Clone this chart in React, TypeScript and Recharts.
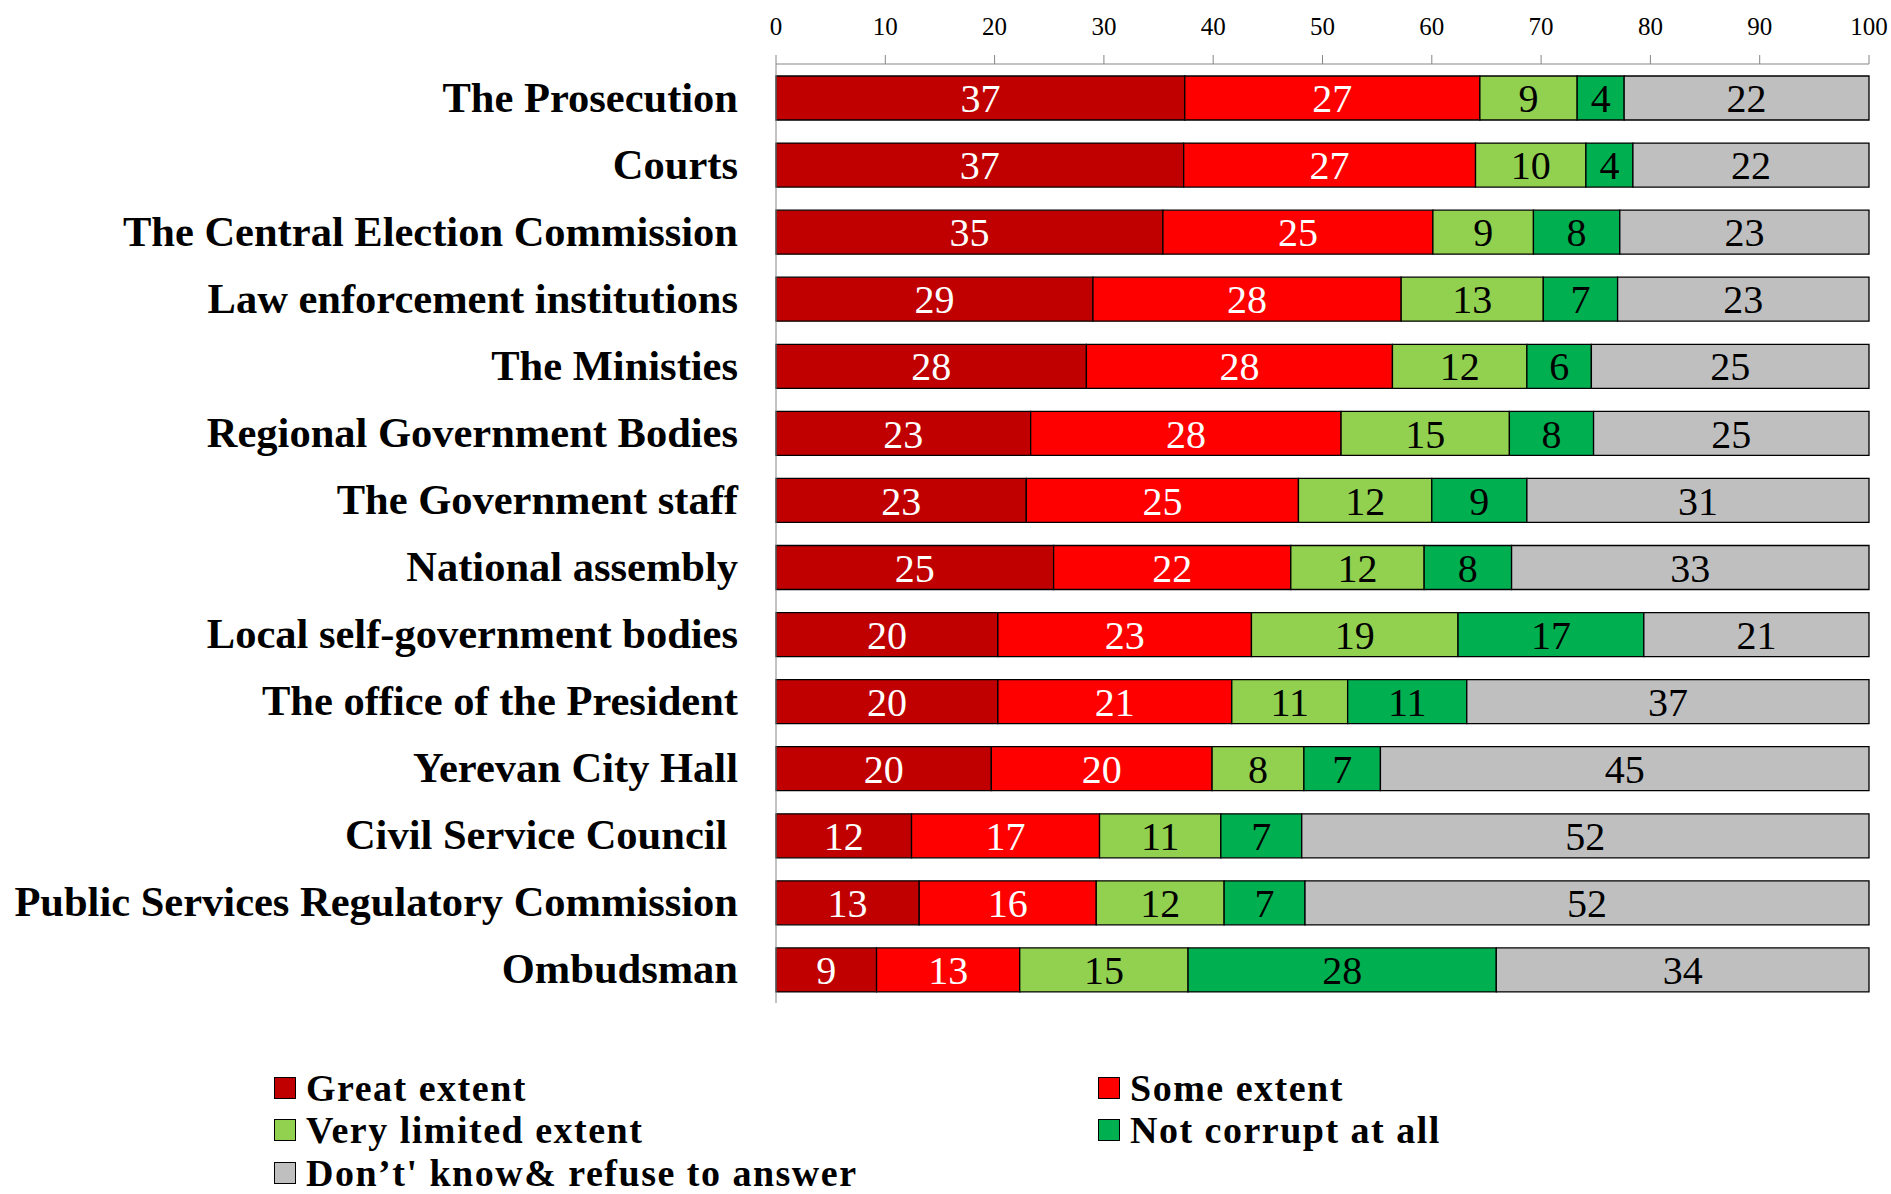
import React from 'react';
import { BarChart, Bar, XAxis, YAxis, Legend, LabelList } from 'recharts';

const FONT = '"Liberation Serif", "Times New Roman", serif';

const institutions = [
  'The Prosecution',
  'Courts',
  'The Central Election Commission',
  'Law enforcement institutions',
  'The Ministies',
  'Regional Government Bodies',
  'The Government staff',
  'National assembly',
  'Local self-government bodies',
  'The office of the President',
  'Yerevan City Hall',
  'Civil Service Council ',
  'Public Services Regulatory Commission',
  'Ombudsman',
];

// shares in %, read from the segment edges (labels show them rounded)
const greatExtent = [37.4, 37.3, 35.4, 29.0, 28.4, 23.3, 22.9, 25.4, 20.3, 20.3, 19.7, 12.4, 13.1, 9.2];
const someExtent = [27.0, 26.7, 24.7, 28.2, 28.0, 28.4, 24.9, 21.7, 23.2, 21.4, 20.2, 17.2, 16.2, 13.1];
const veryLimited = [8.9, 10.1, 9.2, 13.0, 12.3, 15.4, 12.2, 12.2, 18.9, 10.6, 8.4, 11.1, 11.7, 15.4];
const notCorrupt = [4.3, 4.3, 7.9, 6.8, 5.9, 7.7, 8.7, 8.0, 17.0, 10.9, 7.0, 7.4, 7.4, 28.2];
const dontKnow = [22.4, 21.6, 22.8, 23.0, 25.4, 25.2, 31.3, 32.7, 20.6, 36.8, 44.7, 51.9, 51.6, 34.1];

const xTicks = [0, 10, 20, 30, 40, 50, 60, 70, 80, 90, 100];

const series = [
  { key: 'great', name: 'Great extent', color: '#C00000', label: '#FFFFFF' },
  { key: 'some', name: 'Some extent', color: '#FF0000', label: '#FFFFFF' },
  { key: 'limited', name: 'Very limited extent', color: '#92D050', label: '#000000' },
  { key: 'none', name: 'Not corrupt at all', color: '#00B050', label: '#000000' },
  { key: 'dk', name: 'Don\u2019t\' know& refuse to answer', color: '#BFBFBF', label: '#000000' },
];

const data = institutions.map((name, i) => ({
  name,
  great: greatExtent[i],
  some: someExtent[i],
  limited: veryLimited[i],
  none: notCorrupt[i],
  dk: dontKnow[i],
}));

// legend grid: [left, row]
const legendSlots = [
  [274, 0],
  [1098, 0],
  [274, 1],
  [1098, 1],
  [274, 2],
];

const CategoryTick = (props: any) => {
  const { x, y, payload } = props;
  return (
    <text
      x={x}
      y={y}
      dy={14}
      textAnchor="end"
      fill="#000"
      fontFamily={FONT}
      fontSize={42.5}
      fontWeight={700}
      style={{ whiteSpace: 'pre' }}
    >
      {payload.value}
    </text>
  );
};

const renderLegend = () => (
  <div style={{ position: 'relative', width: 1891, height: 127, fontFamily: FONT, fontWeight: 700, fontSize: 38, letterSpacing: 1.5, color: '#000' }}>
    {series.map((s, i) => (
      <div
        key={s.key}
        style={{
          position: 'absolute',
          left: legendSlots[i][0],
          top: legendSlots[i][1] * 42.3,
          height: 42,
          display: 'flex',
          alignItems: 'center',
          whiteSpace: 'nowrap',
        }}
      >
        <span style={{ display: 'inline-block', width: 20, height: 20, background: s.color, border: '1px solid #000', marginRight: 10 }} />
        <span style={{ lineHeight: '42px' }}>{s.name}</span>
      </div>
    ))}
  </div>
);

export default function App() {
  return (
    <div style={{ position: 'absolute', left: 0, top: 0, width: 1891, height: 1194, background: '#fff' }}>
      <BarChart
        width={1891}
        height={1194}
        data={data}
        layout="vertical"
        margin={{ top: 0, right: 22, bottom: 191, left: 0 }}
        barSize={44}
      >
        <XAxis
          type="number"
          orientation="top"
          domain={[0, 100]}
          ticks={xTicks}
          interval={0}
          height={64}
          tickSize={9}
          tickMargin={20}
          stroke="#868686"
          tick={{ fontSize: 25, fill: '#000', fontFamily: FONT }}
        />
        <YAxis
          type="category"
          dataKey="name"
          width={776}
          tickLine={false}
          tickSize={0}
          tickMargin={38}
          interval={0}
          stroke="#868686"
          tick={<CategoryTick />}
        />
        <Legend
          layout="horizontal"
          verticalAlign="middle"
          align="center"
          content={renderLegend}
          wrapperStyle={{ top: 1067, left: 0, width: 1891, height: 127 }}
        />
        {series.map((s) => (
          <Bar
            key={s.key}
            dataKey={s.key}
            name={s.name}
            stackId="a"
            fill={s.color}
            stroke="#000"
            strokeWidth={1.3}
            isAnimationActive={false}
          >
            <LabelList
              dataKey={s.key}
              position="center"
              formatter={(v: any) => Math.round(Number(v))}
              style={{ fill: s.label, fontSize: 40, fontFamily: FONT }}
            />
          </Bar>
        ))}
      </BarChart>
    </div>
  );
}
